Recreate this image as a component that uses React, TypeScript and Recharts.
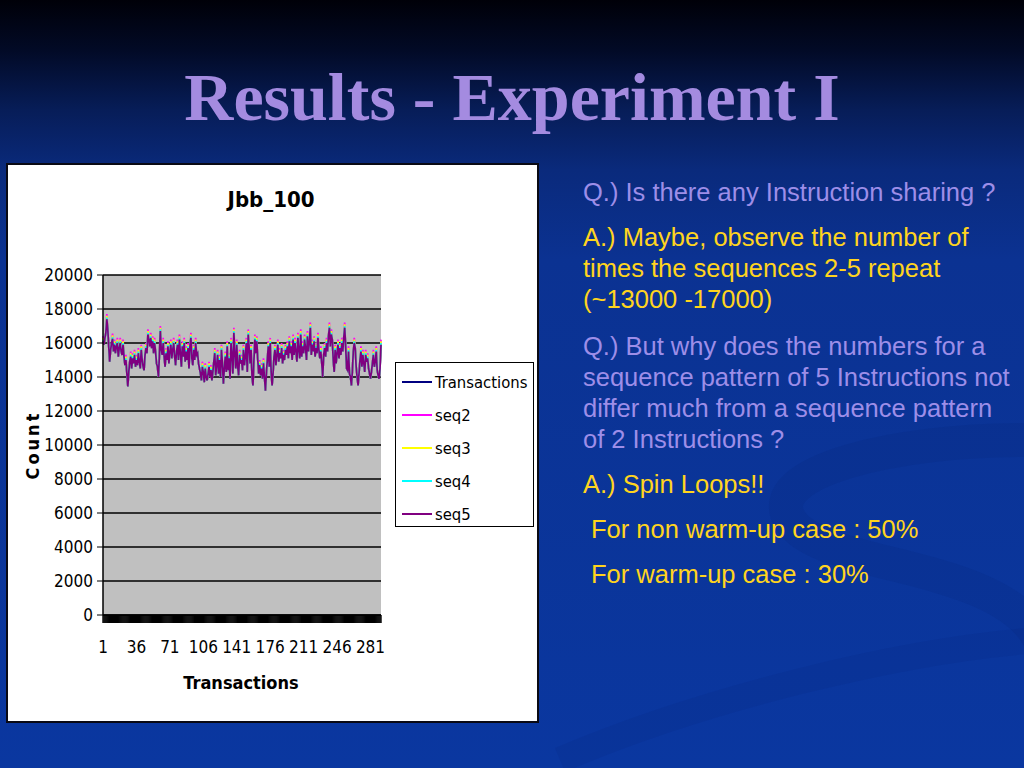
import React from 'react';
import { LineChart, Line, XAxis, YAxis, CartesianGrid } from 'recharts';

// ---- data ----
const seriesNames = ['Transactions', 'seq2', 'seq3', 'seq4', 'seq5'];
const seriesColors = ['#000080', '#FF00FF', '#FFFF00', '#00FFFF', '#800080'];

const yTicks = [0, 2000, 4000, 6000, 8000, 10000, 12000, 14000, 16000, 18000, 20000];
const xTickLabels = [1, 36, 71, 106, 141, 176, 211, 246, 281];

const transactions = [
  16100, 15900, 16300, 16600, 17400, 16800, 15800, 14900, 15600, 16000,
  16250, 15500, 15900, 15400, 15800, 16000, 15200, 15700, 16000, 15500,
  15300, 15900, 15200, 14700, 15000, 14200, 13450, 14300, 14900, 15200,
  14500, 15100, 14800, 15300, 14600, 15000, 14700, 15400, 14900, 14500,
  15600, 15000, 14600, 14400, 15300, 15700, 15400, 16500, 16200, 15800,
  16300, 15700, 16100, 15400, 16000, 15500, 14800, 14600, 14000, 15200,
  16700, 15600, 15300, 16000, 15200, 14600, 15400, 15000, 15800, 14800,
  15500, 15900, 15100, 15600, 16000, 15200, 14700, 15500, 15900, 15000,
  16200, 15400, 14600, 15800, 15200, 16000, 14900, 15500, 15000, 15700,
  14500, 15800, 16300, 15100, 14700, 15600, 15000, 16000, 15300, 15400,
  14800, 14500, 14200, 13800, 14600, 14300, 13700, 14500, 14000, 13800,
  14200, 14600, 14000, 14400, 13800, 14300, 14900, 15400, 14100, 14700,
  15300, 14200, 15000, 14000, 15600, 14800, 13600, 14500, 15200, 14300,
  15800, 14400, 15100, 13900, 16000, 15300, 14200, 16600, 15400, 14500,
  15900, 14600, 14100, 15300, 14800, 15000, 14400, 15600, 14700, 15200,
  16000, 14300, 16500, 15700, 14800, 15600, 14000, 13500, 15000, 16200,
  15400, 16100, 15000, 14200, 14700, 14100, 14500, 13900, 14800, 14000,
  13200, 14200, 15000, 15800, 14600, 16000, 14300, 13500, 14200, 15200,
  15600, 14700, 15300, 15900, 14900, 15400, 15100, 15700, 14800, 15300,
  15000, 15600, 15300, 15800, 15100, 16100, 15400, 15800, 15000, 16200,
  15300, 16000, 15500, 14900, 16300, 15600, 15100, 16500, 15200, 15800,
  15400, 16200, 15700, 15000, 16400, 15500, 16000, 16900, 15300, 15900,
  15500, 16100, 15200, 15700, 15400, 16300, 15600, 15100, 15500, 14800,
  14000, 15300, 15700, 15200, 16000, 15500, 16400, 16900, 15800, 16500,
  16200, 15000, 14300, 15600, 14800, 15400, 15900, 15100, 15700, 15300,
  16000, 15500, 16300, 16900, 15800, 14500, 14400, 15500, 14200, 14000,
  13500, 14300, 15500, 16000, 15700, 14600, 14000, 13500, 14200, 15000,
  15500, 14600, 15300, 14800, 14300, 15300, 14900, 15100, 14500, 14200,
  13900, 14300, 14800, 15300, 14600, 14900, 15500, 14400, 14100, 13900,
  14500, 15900,
];

const seq2 = [
  16400, 15900, 16300, 16600, 17700, 16800, 15800, 14900, 15600, 16000,
  16550, 15500, 16200, 15400, 15800, 16300, 15200, 15700, 16300, 15500,
  15300, 16200, 15200, 14700, 15300, 14200, 13450, 14300, 14900, 15500,
  14500, 15400, 14800, 15600, 14600, 15300, 14700, 15700, 14900, 14500,
  15900, 15000, 14600, 14400, 15300, 16000, 15400, 16800, 16200, 15800,
  16600, 15700, 16400, 15400, 16300, 15500, 14800, 14600, 14000, 15200,
  17000, 15600, 15300, 16300, 15200, 14600, 15700, 15000, 16100, 14800,
  15500, 16200, 15100, 15600, 16300, 15200, 14700, 15500, 16200, 15000,
  16500, 15400, 14600, 16100, 15200, 16300, 14900, 15800, 15000, 16000,
  14500, 15800, 16600, 15100, 14700, 15900, 15000, 16300, 15300, 15400,
  14800, 14500, 14200, 13800, 14900, 14300, 13700, 14800, 14000, 13800,
  14200, 14900, 14000, 14700, 13800, 14300, 14900, 15700, 14100, 14700,
  15600, 14200, 15300, 14000, 15900, 14800, 13600, 14500, 15500, 14300,
  16100, 14400, 15400, 13900, 16300, 15300, 14200, 16900, 15400, 14500,
  16200, 14600, 14100, 15600, 14800, 15300, 14400, 15900, 14700, 15200,
  16300, 14300, 16800, 15700, 14800, 15900, 14000, 13500, 15000, 16500,
  15400, 16400, 15000, 14200, 15000, 14100, 14800, 13900, 15100, 14000,
  13200, 14200, 15000, 16100, 14600, 16300, 14300, 13500, 14200, 15200,
  15900, 14700, 15300, 16200, 14900, 15700, 15100, 16000, 14800, 15600,
  15000, 15900, 15300, 16100, 15100, 16400, 15400, 16100, 15000, 16500,
  15300, 16300, 15500, 14900, 16600, 15600, 15100, 16800, 15200, 16100,
  15400, 16500, 15700, 15000, 16700, 15500, 16000, 17200, 15300, 16200,
  15500, 16400, 15200, 16000, 15400, 16600, 15600, 15100, 15800, 14800,
  14000, 15300, 16000, 15200, 16300, 15500, 16400, 17200, 15800, 16800,
  16200, 15000, 14300, 15900, 14800, 15400, 16200, 15100, 16000, 15300,
  16300, 15500, 16300, 17200, 15800, 14500, 14400, 15800, 14200, 14000,
  13500, 14300, 15500, 16300, 15700, 14600, 14000, 13500, 14200, 15000,
  15800, 14600, 15600, 14800, 14300, 15600, 14900, 15400, 14500, 14200,
  13900, 14300, 14800, 15600, 14600, 14900, 15800, 14400, 14100, 13900,
  14500, 16200,
];

const seq3 = [
  16300, 15900, 16300, 16600, 17600, 16800, 15800, 14900, 15600, 16000,
  16450, 15500, 16100, 15400, 15800, 16200, 15200, 15700, 16200, 15500,
  15300, 16100, 15200, 14700, 15200, 14200, 13450, 14300, 14900, 15400,
  14500, 15300, 14800, 15500, 14600, 15200, 14700, 15600, 14900, 14500,
  15800, 15000, 14600, 14400, 15300, 15900, 15400, 16700, 16200, 15800,
  16500, 15700, 16300, 15400, 16200, 15500, 14800, 14600, 14000, 15200,
  16900, 15600, 15300, 16200, 15200, 14600, 15600, 15000, 16000, 14800,
  15500, 16100, 15100, 15600, 16200, 15200, 14700, 15500, 16100, 15000,
  16400, 15400, 14600, 16000, 15200, 16200, 14900, 15700, 15000, 15900,
  14500, 15800, 16500, 15100, 14700, 15800, 15000, 16200, 15300, 15400,
  14800, 14500, 14200, 13800, 14800, 14300, 13700, 14700, 14000, 13800,
  14200, 14800, 14000, 14600, 13800, 14300, 14900, 15600, 14100, 14700,
  15500, 14200, 15200, 14000, 15800, 14800, 13600, 14500, 15400, 14300,
  16000, 14400, 15300, 13900, 16200, 15300, 14200, 16800, 15400, 14500,
  16100, 14600, 14100, 15500, 14800, 15200, 14400, 15800, 14700, 15200,
  16200, 14300, 16700, 15700, 14800, 15800, 14000, 13500, 15000, 16400,
  15400, 16300, 15000, 14200, 14900, 14100, 14700, 13900, 15000, 14000,
  13200, 14200, 15000, 16000, 14600, 16200, 14300, 13500, 14200, 15200,
  15800, 14700, 15300, 16100, 14900, 15600, 15100, 15900, 14800, 15500,
  15000, 15800, 15300, 16000, 15100, 16300, 15400, 16000, 15000, 16400,
  15300, 16200, 15500, 14900, 16500, 15600, 15100, 16700, 15200, 16000,
  15400, 16400, 15700, 15000, 16600, 15500, 16000, 17100, 15300, 16100,
  15500, 16300, 15200, 15900, 15400, 16500, 15600, 15100, 15700, 14800,
  14000, 15300, 15900, 15200, 16200, 15500, 16400, 17100, 15800, 16700,
  16200, 15000, 14300, 15800, 14800, 15400, 16100, 15100, 15900, 15300,
  16200, 15500, 16300, 17100, 15800, 14500, 14400, 15700, 14200, 14000,
  13500, 14300, 15500, 16200, 15700, 14600, 14000, 13500, 14200, 15000,
  15700, 14600, 15500, 14800, 14300, 15500, 14900, 15300, 14500, 14200,
  13900, 14300, 14800, 15500, 14600, 14900, 15700, 14400, 14100, 13900,
  14500, 16100,
];

const seq4 = [
  16200, 15900, 16300, 16600, 17500, 16800, 15800, 14900, 15600, 16000,
  16350, 15500, 16000, 15400, 15800, 16100, 15200, 15700, 16100, 15500,
  15300, 16000, 15200, 14700, 15100, 14200, 13450, 14300, 14900, 15300,
  14500, 15200, 14800, 15400, 14600, 15100, 14700, 15500, 14900, 14500,
  15700, 15000, 14600, 14400, 15300, 15800, 15400, 16600, 16200, 15800,
  16400, 15700, 16200, 15400, 16100, 15500, 14800, 14600, 14000, 15200,
  16800, 15600, 15300, 16100, 15200, 14600, 15500, 15000, 15900, 14800,
  15500, 16000, 15100, 15600, 16100, 15200, 14700, 15500, 16000, 15000,
  16300, 15400, 14600, 15900, 15200, 16100, 14900, 15600, 15000, 15800,
  14500, 15800, 16400, 15100, 14700, 15700, 15000, 16100, 15300, 15400,
  14800, 14500, 14200, 13800, 14700, 14300, 13700, 14600, 14000, 13800,
  14200, 14700, 14000, 14500, 13800, 14300, 14900, 15500, 14100, 14700,
  15400, 14200, 15100, 14000, 15700, 14800, 13600, 14500, 15300, 14300,
  15900, 14400, 15200, 13900, 16100, 15300, 14200, 16700, 15400, 14500,
  16000, 14600, 14100, 15400, 14800, 15100, 14400, 15700, 14700, 15200,
  16100, 14300, 16600, 15700, 14800, 15700, 14000, 13500, 15000, 16300,
  15400, 16200, 15000, 14200, 14800, 14100, 14600, 13900, 14900, 14000,
  13200, 14200, 15000, 15900, 14600, 16100, 14300, 13500, 14200, 15200,
  15700, 14700, 15300, 16000, 14900, 15500, 15100, 15800, 14800, 15400,
  15000, 15700, 15300, 15900, 15100, 16200, 15400, 15900, 15000, 16300,
  15300, 16100, 15500, 14900, 16400, 15600, 15100, 16600, 15200, 15900,
  15400, 16300, 15700, 15000, 16500, 15500, 16000, 17000, 15300, 16000,
  15500, 16200, 15200, 15800, 15400, 16400, 15600, 15100, 15600, 14800,
  14000, 15300, 15800, 15200, 16100, 15500, 16400, 17000, 15800, 16600,
  16200, 15000, 14300, 15700, 14800, 15400, 16000, 15100, 15800, 15300,
  16100, 15500, 16300, 17000, 15800, 14500, 14400, 15600, 14200, 14000,
  13500, 14300, 15500, 16100, 15700, 14600, 14000, 13500, 14200, 15000,
  15600, 14600, 15400, 14800, 14300, 15400, 14900, 15200, 14500, 14200,
  13900, 14300, 14800, 15400, 14600, 14900, 15600, 14400, 14100, 13900,
  14500, 16000,
];

const seq5 = [
  16100, 15900, 16300, 16600, 17400, 16800, 15800, 14900, 15600, 16000,
  16250, 15500, 15900, 15400, 15800, 16000, 15200, 15700, 16000, 15500,
  15300, 15900, 15200, 14700, 15000, 14200, 13450, 14300, 14900, 15200,
  14500, 15100, 14800, 15300, 14600, 15000, 14700, 15400, 14900, 14500,
  15600, 15000, 14600, 14400, 15300, 15700, 15400, 16500, 16200, 15800,
  16300, 15700, 16100, 15400, 16000, 15500, 14800, 14600, 14000, 15200,
  16700, 15600, 15300, 16000, 15200, 14600, 15400, 15000, 15800, 14800,
  15500, 15900, 15100, 15600, 16000, 15200, 14700, 15500, 15900, 15000,
  16200, 15400, 14600, 15800, 15200, 16000, 14900, 15500, 15000, 15700,
  14500, 15800, 16300, 15100, 14700, 15600, 15000, 16000, 15300, 15400,
  14800, 14500, 14200, 13800, 14600, 14300, 13700, 14500, 14000, 13800,
  14200, 14600, 14000, 14400, 13800, 14300, 14900, 15400, 14100, 14700,
  15300, 14200, 15000, 14000, 15600, 14800, 13600, 14500, 15200, 14300,
  15800, 14400, 15100, 13900, 16000, 15300, 14200, 16600, 15400, 14500,
  15900, 14600, 14100, 15300, 14800, 15000, 14400, 15600, 14700, 15200,
  16000, 14300, 16500, 15700, 14800, 15600, 14000, 13500, 15000, 16200,
  15400, 16100, 15000, 14200, 14700, 14100, 14500, 13900, 14800, 14000,
  13200, 14200, 15000, 15800, 14600, 16000, 14300, 13500, 14200, 15200,
  15600, 14700, 15300, 15900, 14900, 15400, 15100, 15700, 14800, 15300,
  15000, 15600, 15300, 15800, 15100, 16100, 15400, 15800, 15000, 16200,
  15300, 16000, 15500, 14900, 16300, 15600, 15100, 16500, 15200, 15800,
  15400, 16200, 15700, 15000, 16400, 15500, 16000, 16900, 15300, 15900,
  15500, 16100, 15200, 15700, 15400, 16300, 15600, 15100, 15500, 14800,
  14000, 15300, 15700, 15200, 16000, 15500, 16400, 16900, 15800, 16500,
  16200, 15000, 14300, 15600, 14800, 15400, 15900, 15100, 15700, 15300,
  16000, 15500, 16300, 16900, 15800, 14500, 14400, 15500, 14200, 14000,
  13500, 14300, 15500, 16000, 15700, 14600, 14000, 13500, 14200, 15000,
  15500, 14600, 15300, 14800, 14300, 15300, 14900, 15100, 14500, 14200,
  13900, 14300, 14800, 15300, 14600, 14900, 15500, 14400, 14100, 13900,
  14500, 15900,
];

const seriesValues = [transactions, seq2, seq3, seq4, seq5];

const data = seq5.map((_, i) => {
  const row: Record<string, number> = { idx: i + 1 };
  seriesNames.forEach((n, k) => {
    row[n] = seriesValues[k][i];
  });
  return row;
});

const chartFont = "'DejaVu Sans Condensed', 'Liberation Sans', Arial, sans-serif";

const XTick = (props: any) => {
  const { x, y, payload } = props;
  if (!xTickLabels.includes(payload.value)) return <g />;
  return (
    <text x={x} y={y + 28} textAnchor="middle" fontSize={17} fill="#000" fontFamily={chartFont}>
      {payload.value}
    </text>
  );
};

const textLine: React.CSSProperties = {
  position: 'absolute',
  left: 583,
  fontFamily: "'Liberation Sans', Arial, sans-serif",
  fontSize: 25.5,
  lineHeight: '31px',
  whiteSpace: 'nowrap',
};
const qColor = '#9d8ee8';
const aColor = '#ffd41e';

export default function App() {
  return (
    <div
      style={{
        position: 'absolute',
        left: 0,
        top: 0,
        width: 1024,
        height: 768,
        overflow: 'hidden',
        background:
          'linear-gradient(to bottom, #000008 0px, #020a26 50px, #071d58 110px, #0a2a7c 170px, #0b3292 260px, #0a37a0 768px)',
      }}
    >
      {/* faint background swoosh */}
      <svg
        width={1024}
        height={768}
        style={{ position: 'absolute', left: 0, top: 0 }}
      >
        <path
          d="M 1024 440 C 900 440, 760 470, 790 520 C 820 570, 1000 560, 1040 640"
          fill="none"
          stroke="rgba(10,30,110,0.12)"
          strokeWidth={34}
        />
        <path
          d="M 560 760 C 700 700, 900 650, 1040 640"
          fill="none"
          stroke="rgba(10,30,110,0.1)"
          strokeWidth={26}
        />
      </svg>

      <div
        style={{
          position: 'absolute',
          left: 0,
          top: 57,
          width: 1024,
          textAlign: 'center',
          fontFamily: "'Liberation Serif', 'Times New Roman', serif",
          fontWeight: 'bold',
          fontSize: 68,
          lineHeight: '80px',
          color: '#a48be0',
          whiteSpace: 'nowrap',
        }}
      >
        Results - Experiment I
      </div>

      {/* chart panel */}
      <div
        style={{
          position: 'absolute',
          left: 6,
          top: 163,
          width: 529,
          height: 556,
          background: '#ffffff',
          border: '2px solid #0a0a14',
        }}
      />
      <div style={{ position: 'absolute', left: 8, top: 165 }}>
        <LineChart
          width={530}
          height={556}
          data={data}
          margin={{ top: 110, right: 157, bottom: 76, left: 25 }}
        >
          <CartesianGrid vertical={false} stroke="#000000" strokeWidth={1.5} fill="#c0c0c0" fillOpacity={1} />
          <XAxis
            dataKey="idx"
            type="category"
            interval={0}
            tick={<XTick />}
            tickSize={8}
            tickLine={{ stroke: '#000', strokeWidth: 1.4 }}
            axisLine={{ stroke: '#000', strokeWidth: 1.5 }}
            height={30}
          />
          <YAxis
            domain={[0, 20000]}
            ticks={yTicks}
            interval={0}
            width={70}
            tickSize={6}
            tickMargin={4}
            tickLine={{ stroke: '#000', strokeWidth: 1 }}
            axisLine={{ stroke: '#000', strokeWidth: 1.5 }}
            tick={{ fill: '#000', fontSize: 17, fontFamily: chartFont }}
          />
          {seriesNames.map((n, k) => (
            <Line
              key={n}
              type="linear"
              dataKey={n}
              stroke={seriesColors[k]}
              strokeWidth={1.7}
              dot={false}
              isAnimationActive={false}
            />
          ))}
        </LineChart>
      </div>

      <div
        style={{
          position: 'absolute',
          left: 171,
          top: 187,
          width: 200,
          textAlign: 'center',
          fontFamily: chartFont,
          fontWeight: 'bold',
          fontSize: 22,
          lineHeight: '26px',
          color: '#000',
        }}
      >
        Jbb_100
      </div>
      <div
        style={{
          position: 'absolute',
          left: 141,
          top: 672,
          width: 200,
          textAlign: 'center',
          fontFamily: chartFont,
          fontWeight: 'bold',
          fontSize: 18,
          lineHeight: '22px',
          color: '#000',
        }}
      >
        Transactions
      </div>
      <div
        style={{
          position: 'absolute',
          left: -17,
          top: 434,
          width: 100,
          height: 22,
          textAlign: 'center',
          fontFamily: chartFont,
          fontWeight: 'bold',
          fontSize: 18,
          lineHeight: '22px',
          letterSpacing: 3,
          color: '#000',
          transform: 'rotate(-90deg)',
        }}
      >
        Count
      </div>

      {/* legend */}
      <div
        style={{
          position: 'absolute',
          left: 395,
          top: 362,
          width: 137,
          height: 163,
          background: '#fff',
          border: '1.5px solid #000',
        }}
      >
        {seriesNames.map((n, k) => (
          <div
            key={n}
            style={{
              position: 'absolute',
              left: 0,
              top: 7 + k * 33,
              height: 24,
              display: 'flex',
              alignItems: 'center',
            }}
          >
            <div style={{ marginLeft: 6, width: 30, height: 2, background: seriesColors[k] }} />
            <span
              style={{
                marginLeft: 3,
                fontFamily: chartFont,
                fontSize: 16.5,
                color: '#000',
                whiteSpace: 'nowrap',
              }}
            >
              {n}
            </span>
          </div>
        ))}
      </div>

      {/* right-hand text */}
      <div style={{ ...textLine, top: 177, color: qColor }}>Q.) Is there any Instruction sharing ?</div>
      <div style={{ ...textLine, top: 222, color: aColor }}>
        A.) Maybe, observe the number of
        <br />
        times the sequences 2-5 repeat
        <br />
        (~13000 -17000)
      </div>
      <div style={{ ...textLine, top: 331, color: qColor }}>
        Q.) But why does the numbers for a
        <br />
        sequence pattern of 5 Instructions not
        <br />
        differ much from a sequence pattern
        <br />
        of 2 Instructions ?
      </div>
      <div style={{ ...textLine, top: 469, color: aColor }}>A.) Spin Loops!!</div>
      <div style={{ ...textLine, top: 514, left: 591, color: aColor }}>For non warm-up case : 50%</div>
      <div style={{ ...textLine, top: 559, left: 591, color: aColor }}>For warm-up case : 30%</div>
    </div>
  );
}
